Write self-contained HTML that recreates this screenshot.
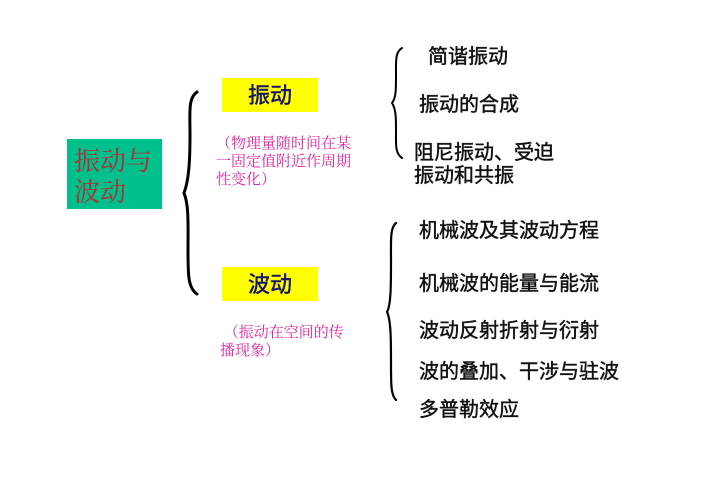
<!DOCTYPE html>
<html><head><meta charset="utf-8">
<style>
html,body{margin:0;padding:0;background:#fff}
#p{position:relative;width:702px;height:496px;overflow:hidden;background:#fff;font-family:"Liberation Sans","Noto Sans CJK SC",sans-serif}
.t{position:absolute;white-space:nowrap;line-height:1;color:#111;font-size:20px;-webkit-text-stroke:.45px #111}
.s{position:absolute;white-space:nowrap;color:#e0259f;font-size:15px;line-height:18px;font-family:"Liberation Serif","Noto Serif CJK SC",serif}
.b{position:absolute;background:#ffff00}
.bt{position:absolute;white-space:nowrap;line-height:1;font-size:22px;color:#14146e;-webkit-text-stroke:.5px #14146e}
</style></head><body><div id="p">
<div style="position:absolute;left:67px;top:139px;width:95px;height:70px;background:#00c08c"></div>
<div style="position:absolute;left:74px;top:146px;font-size:26px;line-height:31px;color:#b02c34;white-space:nowrap;font-family:'Liberation Serif','Noto Serif CJK SC',serif">振动与<br>波动</div>
<div class="b" style="left:222px;top:78px;width:96px;height:34px"></div>
<div class="bt" style="left:248px;top:85px">振动</div>
<div class="b" style="left:222px;top:267px;width:96px;height:34px"></div>
<div class="bt" style="left:248px;top:274px">波动</div>
<div class="s" style="left:216px;top:135px">（物理量随时间在某<br>一固定值附近作周期<br>性变化）</div>
<div class="s" style="left:220px;top:324px">&nbsp;（振动在空间的传<br>播现象）</div>
<svg width="702" height="496" style="position:absolute;left:0;top:0" fill="none" stroke="#000" stroke-linecap="round">
<path d="M197 92 C188 98 190 112 190 135 C190 160 189 180 184 193 C189 205 188 225 188 250 C188 275 188 288 197 294" stroke-width="3"/>
<path d="M402 48 C395 52 396 62 396 75 C396 90 396 98 392 103 C396 109 396 118 396 130 C396 145 395 153 402 158" stroke-width="2"/>
<path d="M396 223 C390 228 391 240 391 260 C391 285 391 305 387 312 C391 320 391 340 391 365 C391 385 391 395 396 400" stroke-width="2.2"/>
</svg>
<div class="t" style="left:428px;top:47px">简谐振动</div>
<div class="t" style="left:419px;top:95px">振动的合成</div>
<div class="t" style="left:414px;top:143px">阻尼振动、受迫</div>
<div class="t" style="left:414px;top:166px">振动和共振</div>
<div class="t" style="left:419px;top:221px">机械波及其波动方程</div>
<div class="t" style="left:419px;top:274px">机械波的能量与能流</div>
<div class="t" style="left:419px;top:321px">波动反射折射与衍射</div>
<div class="t" style="left:419px;top:362px">波的叠加、干涉与驻波</div>
<div class="t" style="left:419px;top:400px">多普勒效应</div>
</div></body></html>
